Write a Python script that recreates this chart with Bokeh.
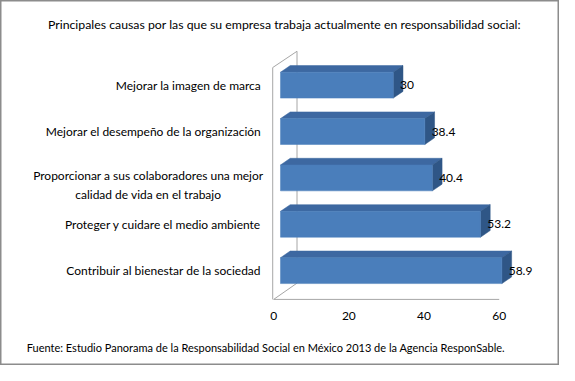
from bokeh.plotting import figure
from bokeh.models import Range1d, ColumnDataSource
from bokeh.embed import file_html
from bokeh.resources import INLINE
from bokeh.core.properties import value

# ---- data ----
categories = [
    "Mejorar la imagen de marca",
    "Mejorar el desempeño de la organización",
    "Proporcionar a sus colaboradores una mejor\ncalidad de vida en el trabajo",
    "Proteger y cuidare el medio ambiente",
    "Contribuir al bienestar de la sociedad",
]
values = [30, 38.4, 40.4, 53.2, 58.9]
x_ticks = [0, 20, 40, 60]
title_text = "Principales causas por las que su empresa trabaja actualmente en responsabilidad social:"
footer_text = "Fuente: Estudio Panorama de la Responsabilidad Social en México 2013 de la Agencia ResponSable."

# ---- layout constants (reference pixels, 575x381 canvas) ----
W, H = 559, 365
REF_W, REF_H = 575, 381
X0_ABS = 281                # x of value 0
Y0_ABS = 282                # y of bottom category centre
SX = 232 / 60               # px per value unit
SY = 48.4                   # px per category step

def ax(px):
    return (px - X0_ABS) / SX

def ay(py):
    return (Y0_ABS - py) / SY

FONT = "Lato"
p = figure(width=W, height=H, output_backend="svg", toolbar_location=None,
           x_range=Range1d(ax(0), ax(REF_W)), y_range=Range1d(ay(REF_H), ay(0)),
           min_border=0)
p.axis.visible = False
p.grid.visible = False
p.outline_line_color = "#8c8c8c"
p.outline_line_width = 2
p.background_fill_color = "white"

# ---- 3D walls ----
wall_col = "#a6a6a6"
p.line([ax(280), ax(280)], [ay(70), ay(312)], line_color=wall_col, line_width=1)
p.line([ax(280), ax(305)], [ay(70), ay(53)], line_color=wall_col, line_width=1)
p.line([ax(305), ax(305)], [ay(53), ay(295)], line_color=wall_col, line_width=1)
p.line([ax(281), ax(305)], [ay(312), ay(295)], line_color=wall_col, line_width=1)
p.line([x_ticks[0], x_ticks[-1]], [ay(312), ay(312)], line_color=wall_col, line_width=1)

# ---- bars (3D) ----
n = len(categories)
ypos = [n - 1 - i for i in range(n)]
bx0 = 7 / SX
half_h = 13.5 / SY
dx = 10 / SX
dy = 7 / SY

front_xs, front_ys, top_xs, top_ys, side_xs, side_ys = [], [], [], [], [], []
for v, yc in zip(values, ypos):
    L, R = bx0, bx0 + v
    B, T = yc - half_h, yc + half_h
    front_xs.append([L, R, R, L]); front_ys.append([B, B, T, T])
    top_xs.append([L, R, R + dx, L + dx]); top_ys.append([T, T, T + dy, T + dy])
    side_xs.append([R, R + dx, R + dx, R]); side_ys.append([B, B + dy, T + dy, T])

p.patches(top_xs, top_ys, fill_color="#3d68a1", line_color="#3d68a1", line_width=0.5)
p.patches(side_xs, side_ys, fill_color="#2f5686", line_color="#2f5686", line_width=0.5)
p.patches(front_xs, front_ys, fill_color="#4a7ebb", line_color="#4a7ebb", line_width=0.5)

# ---- value labels ----
vsrc = ColumnDataSource(dict(x=[bx0 + v + 7 / SX for v in values], y=ypos,
                             t=[("%g" % v) for v in values]))
p.text(x="x", y="y", text="t", source=vsrc, text_font=value(FONT), text_font_size="12px",
       text_color="black", text_align="left", text_baseline="middle")

# ---- category labels ----
single = [i for i, c in enumerate(categories) if "\n" not in c]
multi = [i for i, c in enumerate(categories) if "\n" in c]
csrc = ColumnDataSource(dict(x=[ax(268)] * len(single), y=[ypos[i] for i in single],
                             t=[categories[i] for i in single]))
p.text(x="x", y="y", text="t", source=csrc, text_font=value(FONT), text_font_size="12px",
       text_color="black", text_align="right", text_baseline="middle")
msrc = ColumnDataSource(dict(x=[ax(152)] * len(multi), y=[ypos[i] - 7 / SY for i in multi],
                             t=[categories[i] for i in multi]))
p.text(x="x", y="y", text="t", source=msrc, text_font=value(FONT), text_font_size="12px",
       text_color="black", text_align="center", text_baseline="middle", text_line_height=1.25)

# ---- x tick labels ----
tsrc = ColumnDataSource(dict(x=x_ticks, y=[ay(329)] * len(x_ticks), t=[str(t) for t in x_ticks]))
p.text(x="x", y="y", text="t", source=tsrc, text_font=value(FONT), text_font_size="12px",
       text_color="black", text_align="center", text_baseline="middle")

# ---- title and footer ----
p.text(x=[ax(292)], y=[ay(25)], text=[title_text], text_font=value(FONT), text_font_size="12.3px",
       text_color="black", text_align="center", text_baseline="middle")
p.text(x=[ax(27)], y=[ay(362)], text=[footer_text], text_font=value(FONT), text_font_size="11px",
       text_color="black", text_align="left", text_baseline="middle")

open("out.html", "w").write(file_html(p, INLINE))
